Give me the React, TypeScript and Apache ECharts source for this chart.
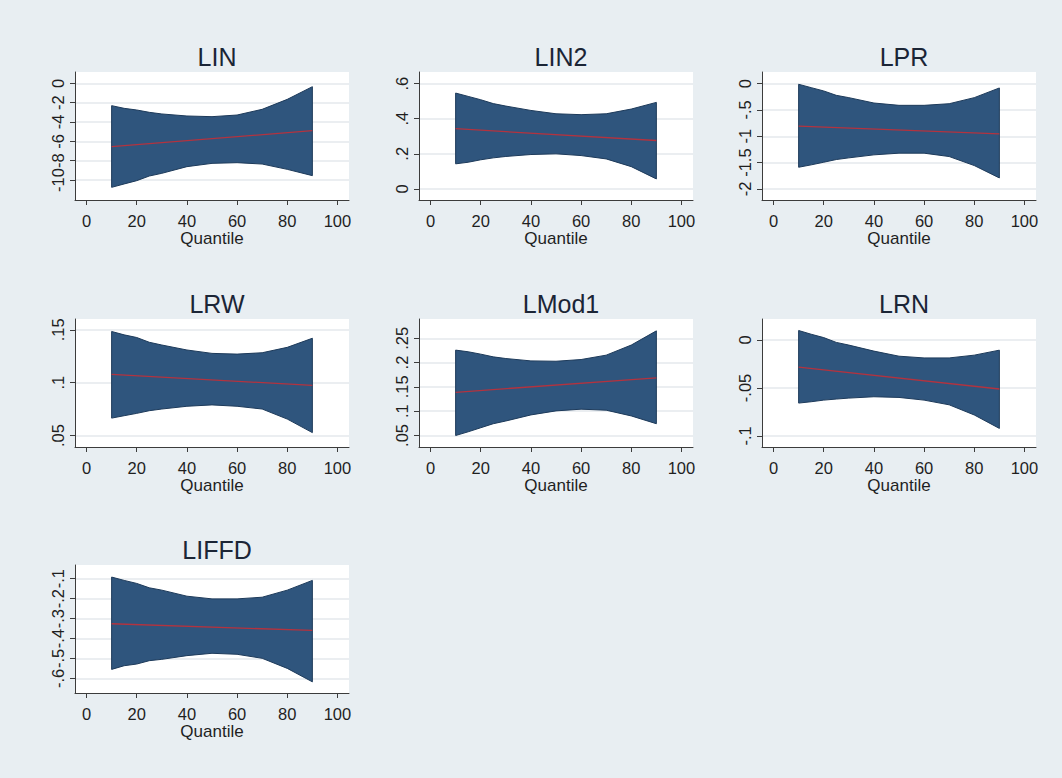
import React, { useEffect, useRef } from "react";
import * as echarts from "echarts";

// Quantile grid (x values)
const quantiles = [10, 15, 20, 25, 30, 40, 50, 60, 70, 80, 90];
const lineX = [10, 90];
const xTicks = [0, 20, 40, 60, 80, 100];

const panelNames = ["LIN", "LIN2", "LPR", "LRW", "LMod1", "LRN", "LIFFD"];

// Confidence band upper/lower bounds per panel
const LIN_upper = [-2.31, -2.59, -2.76, -3.0, -3.17, -3.38, -3.45, -3.28, -2.69, -1.66, -0.35];
const LIN_lower = [-10.76, -10.41, -10.07, -9.59, -9.31, -8.62, -8.28, -8.21, -8.35, -8.9, -9.55];
const LIN_line = [-6.55, -4.9];

const LIN2_upper = [0.546, 0.527, 0.508, 0.486, 0.472, 0.447, 0.428, 0.423, 0.428, 0.455, 0.493];
const LIN2_lower = [0.143, 0.152, 0.166, 0.177, 0.185, 0.196, 0.2, 0.19, 0.171, 0.127, 0.057];
const LIN2_line = [0.343, 0.276];

const LPR_upper = [-0.013, -0.077, -0.14, -0.223, -0.267, -0.369, -0.413, -0.413, -0.382, -0.267, -0.083];
const LPR_lower = [-1.588, -1.543, -1.493, -1.442, -1.41, -1.353, -1.321, -1.321, -1.385, -1.556, -1.791];
const LPR_line = [-0.807, -0.953];

const LRW_upper = [0.1484, 0.1452, 0.1427, 0.1382, 0.1356, 0.1309, 0.1277, 0.127, 0.1283, 0.1334, 0.142];
const LRW_lower = [0.0665, 0.0688, 0.071, 0.0735, 0.0751, 0.0777, 0.079, 0.0777, 0.0751, 0.0656, 0.0528];
const LRW_line = [0.1079, 0.0974];

const LMod1_upper = [0.2256, 0.2222, 0.2173, 0.2117, 0.2083, 0.2034, 0.2027, 0.2062, 0.2152, 0.236, 0.2652];
const LMod1_lower = [0.0499, 0.0576, 0.0659, 0.0742, 0.0798, 0.0923, 0.1006, 0.1041, 0.102, 0.0902, 0.0742];
const LMod1_line = [0.1388, 0.1687];

const LRN_upper = [0.0099, 0.006, 0.0025, -0.0025, -0.0053, -0.0116, -0.0169, -0.0187, -0.0187, -0.0158, -0.0106];
const LRN_lower = [-0.0658, -0.0644, -0.0627, -0.0616, -0.0606, -0.0592, -0.0599, -0.0627, -0.0676, -0.0782, -0.0922];
const LRN_line = [-0.0282, -0.0511];

const LIFFD_upper = [-0.0918, -0.1086, -0.1237, -0.1456, -0.1574, -0.1877, -0.2012, -0.2012, -0.1928, -0.1574, -0.1086];
const LIFFD_lower = [-0.5547, -0.5362, -0.5278, -0.511, -0.5042, -0.4857, -0.4739, -0.4789, -0.4991, -0.5496, -0.617];
const LIFFD_line = [-0.3258, -0.3594];

// Y tick labels per panel
const LIN_ticks = [-10, -8, -6, -4, -2, 0];
const LIN2_ticks = [0, 0.2, 0.4, 0.6];
const LPR_ticks = [-2, -1.5, -1, -0.5, 0];
const LRW_ticks = [0.05, 0.1, 0.15];
const LMod1_ticks = [0.05, 0.1, 0.15, 0.2, 0.25];
const LRN_ticks = [-0.1, -0.05, 0];
const LIFFD_ticks = [-0.6, -0.5, -0.4, -0.3, -0.2, -0.1];

const uppers = [LIN_upper, LIN2_upper, LPR_upper, LRW_upper, LMod1_upper, LRN_upper, LIFFD_upper];
const lowers = [LIN_lower, LIN2_lower, LPR_lower, LRW_lower, LMod1_lower, LRN_lower, LIFFD_lower];
const lines = [LIN_line, LIN2_line, LPR_line, LRW_line, LMod1_line, LRN_line, LIFFD_line];
const yTicks = [LIN_ticks, LIN2_ticks, LPR_ticks, LRW_ticks, LMod1_ticks, LRN_ticks, LIFFD_ticks];

// axis extents (Stata plot-region margins)
const yRanges: [number, number][] = [
  [-12.07, 1.17],
  [-0.063, 0.666],
  [-2.21, 0.22],
  [0.0392, 0.1602],
  [0.0263, 0.2896],
  [-0.1116, 0.0219],
  [-0.673, -0.0313],
];

const FONT = "'Liberation Sans', Arial, sans-serif";
const BG = "#e8eef2";
const BAND = "#2f557d";
const BAND_EDGE = "#1d3a5a";
const RED = "#b3333f";
const AXIS = "#3c3c3c";
const TEXT = "#1f1f1f";

function fmt(v: number): string {
  const r = Math.round(v * 1000) / 1000;
  let s = String(r);
  s = s.replace(/^(-?)0\./, "$1.");
  return s;
}

export default function App() {
  const ref = useRef<HTMLDivElement>(null);
  useEffect(() => {
    if (!ref.current) return;
    const chart = echarts.init(ref.current, undefined, { renderer: "svg" });

    const colLeft = [75, 419, 762];
    const rowTop = [72, 319, 565];
    const W = 274;
    const H = 128;

    const grids: any[] = [];
    const xAxes: any[] = [];
    const yAxes: any[] = [];
    const series: any[] = [];
    const titles: any[] = [];

    panelNames.forEach((name, i) => {
      const col = i % 3;
      const row = Math.floor(i / 3);
      const left = colLeft[col];
      const top = rowTop[row];
      grids.push({
        left,
        top,
        width: W,
        height: H,
        show: true,
        backgroundColor: "#ffffff",
        borderWidth: 0,
        containLabel: false,
      });
      titles.push({
        text: name,
        left: left + W / 2,
        top: top - 33,
        textAlign: "center",
        textStyle: { fontFamily: FONT, fontSize: 25, fontWeight: "normal", color: "#1b2536" },
      });
      xAxes.push({
        type: "value",
        gridIndex: i,
        min: -4.6,
        max: 104.6,
        name: "Quantile",
        nameLocation: "middle",
        nameGap: 30,
        nameTextStyle: { fontFamily: FONT, fontSize: 17, color: TEXT },
        axisLine: { show: true, onZero: false, lineStyle: { color: AXIS, width: 1 } },
        axisTick: { show: true, length: 5, customValues: xTicks, lineStyle: { color: AXIS } },
        axisLabel: {
          customValues: xTicks,
          margin: 12,
          fontFamily: FONT,
          fontSize: 16.5,
          color: TEXT,
          showMinLabel: true,
          showMaxLabel: true,
          formatter: (v: number) => fmt(v),
        },
        splitLine: { show: false },
      });
      yAxes.push({
        type: "value",
        gridIndex: i,
        min: yRanges[i][0],
        max: yRanges[i][1],
        axisLine: { show: true, onZero: false, lineStyle: { color: AXIS, width: 1 } },
        axisTick: { show: true, length: 5, customValues: yTicks[i], lineStyle: { color: AXIS } },
        axisLabel: {
          customValues: yTicks[i],
          rotate: 90,
          margin: 9,
          fontFamily: FONT,
          fontSize: 16.5,
          color: TEXT,
          showMinLabel: true,
          showMaxLabel: true,
          formatter: (v: number) => fmt(v),
        },
        splitLine: { show: true, lineStyle: { color: "#e4e9ed", width: 1.5 } },
      });
      const up = uppers[i];
      const lo = lowers[i];
      series.push({
        type: "custom",
        xAxisIndex: i,
        yAxisIndex: i,
        z: 2,
        silent: true,
        data: quantiles.map((q, k) => [q, lo[k], up[k]]),
        encode: { x: 0, y: [1, 2] },
        renderItem: (params: any, api: any) => {
          if (params.dataIndex !== 0) return null;
          const pts: number[][] = [];
          for (let k = 0; k < quantiles.length; k++) pts.push(api.coord([quantiles[k], up[k]]));
          for (let k = quantiles.length - 1; k >= 0; k--) pts.push(api.coord([quantiles[k], lo[k]]));
          return {
            type: "polygon",
            shape: { points: pts },
            style: { fill: BAND, stroke: BAND_EDGE, lineWidth: 1 },
          };
        },
      });
      series.push({
        type: "line",
        xAxisIndex: i,
        yAxisIndex: i,
        z: 3,
        silent: true,
        showSymbol: false,
        data: lineX.map((x, k) => [x, lines[i][k]]),
        lineStyle: { color: RED, width: 1.3 },
      });
    });

    chart.setOption({
      animation: false,
      backgroundColor: BG,
      title: titles,
      grid: grids,
      xAxis: xAxes,
      yAxis: yAxes,
      series,
    });

    return () => chart.dispose();
  }, []);

  return (
    <div
      ref={ref}
      style={{ position: "fixed", left: 0, top: 0, width: 1062, height: 778 }}
    />
  );
}
